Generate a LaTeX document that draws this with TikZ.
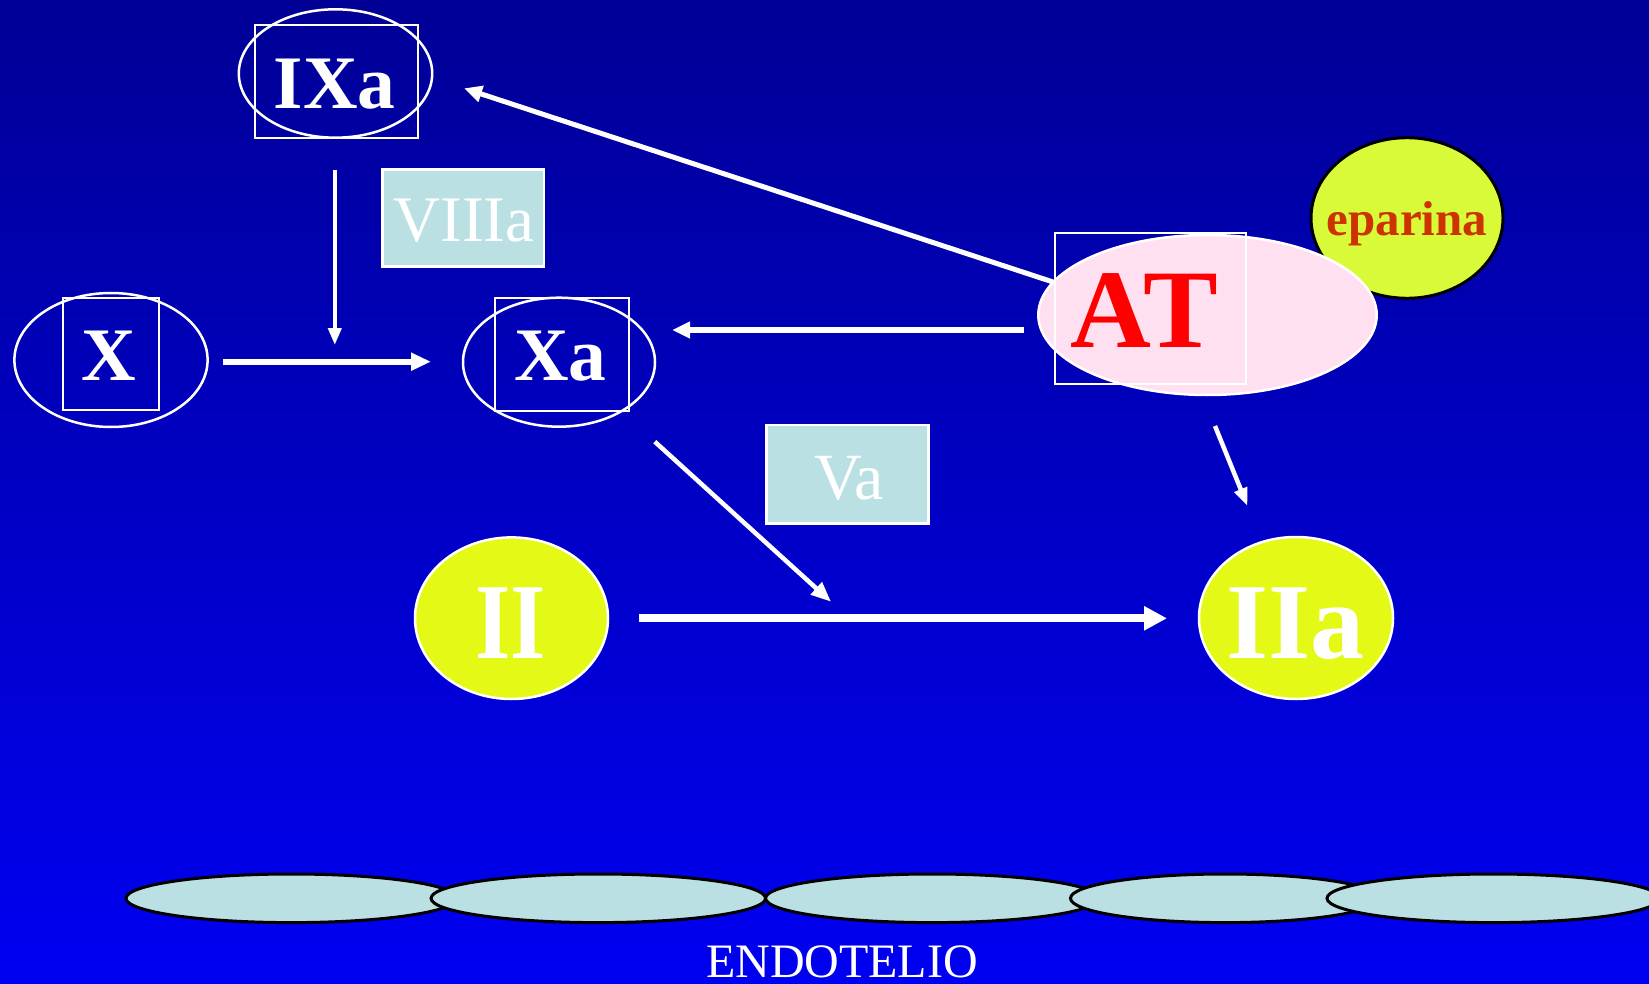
\documentclass[tikz,border=0pt]{standalone}
\usepackage{fontspec}
\setmainfont{Liberation Serif}
\usetikzlibrary{shapes.geometric,arrows.meta}
\definecolor{bgtop}{RGB}{0,0,150}
\definecolor{bgbot}{RGB}{0,0,242}
\definecolor{cyanbox}{RGB}{187,224,227}
\definecolor{yel}{RGB}{228,250,22}
\definecolor{yelhep}{RGB}{216,250,56}
\definecolor{hepred}{RGB}{204,51,0}
\definecolor{pinkat}{RGB}{255,224,240}
\tikzset{
  ring/.style={ellipse, draw=white, line width=1.25pt, inner sep=0pt},
  sq/.style={rectangle, draw=white, line width=1pt, inner sep=0pt},
  cbox/.style={rectangle, draw=white, fill=cyanbox, line width=1.25pt, inner sep=0pt},
  yring/.style={ellipse, draw=white, fill=yel, line width=1.25pt, inner sep=0pt},
  cell/.style={ellipse, draw=black, fill=cyanbox, line width=1.5pt, inner sep=0pt, minimum height=24.3pt},
  lbl/.style={inner sep=0pt, anchor=base, text=white},
  conn/.style={draw=white, line width=#1},
}
\begin{document}
\begin{tikzpicture}[x=0.5pt,y=-0.5pt]
\shade[top color=bgtop, bottom color=bgbot] (0,0) rectangle (1649,984);
\useasboundingbox (0,0) rectangle (1649,984);

% endothelium
\node[cell, minimum width=165.5pt] (c1) at (291.5,898.3) {};
\node[cell, minimum width=167.25pt] (c2) at (598.3,898.3) {};
\node[cell, minimum width=166.75pt] (c3) at (932.3,898.3) {};
\node[cell, minimum width=154.5pt] (c4) at (1225,898.3) {};
\node[cell, minimum width=166.5pt] (c5) at (1493.5,898.3) {};
\node[lbl, font=\fontsize{24}{26}\selectfont] (endo) at (842,977) {ENDOTELIO};

% IXa
\node[ring, minimum width=96.7pt, minimum height=64.2pt] (IXae) at (335.5,73.5) {};
\node[sq, minimum width=81.5pt, minimum height=56.25pt] (IXar) at (336,81.5) {};
\node[lbl, font=\fontsize{37.8}{40}\selectfont\bfseries] (IXat) at (334.5,108.3) {IXa};

% X
\node[ring, minimum width=96.6pt, minimum height=67pt] (Xe) at (111,360) {};
\node[sq, minimum width=48pt, minimum height=56.2pt] (Xr) at (110.5,353.8) {};
\node[lbl, font=\fontsize{37.8}{40}\selectfont\bfseries] (Xt) at (109,380) {X};

% Xa
\node[ring, minimum width=96pt, minimum height=64.5pt] (Xae) at (559,362.2) {};
\node[sq, minimum width=67pt, minimum height=56.5pt] (Xar) at (561.6,354.2) {};
\node[lbl, font=\fontsize{37.8}{40}\selectfont\bfseries] (Xat) at (560.3,380) {Xa};

% VIIIa and Va
\node[cbox, minimum width=80.8pt, minimum height=48.7pt] (VIIIab) at (463.4,218) {};
\node[lbl, font=\fontsize{32.5}{34}\selectfont] (VIIIat) at (464,241.7) {VIIIa};
\node[cbox, minimum width=81pt, minimum height=49.2pt] (Vab) at (847.6,474.2) {};
\node[lbl, font=\fontsize{33}{35}\selectfont] (Vat) at (849,499) {Va};

% II and IIa
\node[yring, minimum width=96.5pt, minimum height=80.8pt] (IIe) at (511.5,618.2) {};
\node[lbl, font=\fontsize{54}{56}\selectfont\bfseries] (IIt) at (511,658.3) {\scalebox{0.84}[1]{II}};
\node[yring, minimum width=97pt, minimum height=81pt] (IIae) at (1296,618) {};
\node[lbl, font=\fontsize{54}{56}\selectfont\bfseries] (IIat) at (1295.7,658) {IIa};

% eparina
\node[ellipse, draw=black, fill=yelhep, line width=1.5pt, inner sep=0pt, minimum width=96pt, minimum height=80.3pt] (epe) at (1407,218) {};
\node[lbl, text=hepred, font=\fontsize{24.5}{27}\selectfont\bfseries] (ept) at (1407,236) {eparina};

% AT
\node[ellipse, draw=white, fill=pinkat, line width=1.25pt, inner sep=0pt, minimum width=169.2pt, minimum height=80pt] (ATe) at (1207.5,315) {};
\node[sq, minimum width=95.4pt, minimum height=75.5pt] (ATr) at (1150.2,308.8) {};
\node[lbl, text=red, font=\fontsize{56}{58}\selectfont\bfseries] (ATt) at (1144.5,347.3) {AT};

% arrow end points
\coordinate (a1s) at (1053,282);
\coordinate (a1e) at (464,88.3);
\coordinate (a2s) at (334.8,170);
\coordinate (a2e) at (334.8,345);
\coordinate (a3s) at (223,361.7);
\coordinate (a3e) at (431,361.7);
\coordinate (a4s) at (1024,330);
\coordinate (a4e) at (672,330);
\coordinate (a5s) at (654.8,441.7);
\coordinate (a5e) at (831,601.7);
\coordinate (a6s) at (639,618.3);
\coordinate (a6e) at (1167,618.3);
\coordinate (a7s) at (1215,426);
\coordinate (a7e) at (1247.5,506);

\draw[conn=2.5pt, -{Triangle[length=9pt,width=8pt]}] (a1s) -- (a1e);
\draw[conn=2pt, -{Triangle[length=8.5pt,width=6.5pt]}] (a2s) -- (a2e);
\draw[conn=2.8pt, -{Triangle[length=10pt,width=8.5pt]}] (a3s) -- (a3e);
\draw[conn=3pt, -{Triangle[length=9pt,width=8pt]}] (a4s) -- (a4e);
\draw[conn=2.25pt, -{Triangle[length=10pt,width=8pt]}] (a5s) -- (a5e);
\draw[conn=4pt, -{Triangle[length=11.5pt,width=11.5pt]}] (a6s) -- (a6e);
\draw[conn=2.25pt, -{Triangle[length=9pt,width=6.5pt]}] (a7s) -- (a7e);
\end{tikzpicture}
\end{document}
